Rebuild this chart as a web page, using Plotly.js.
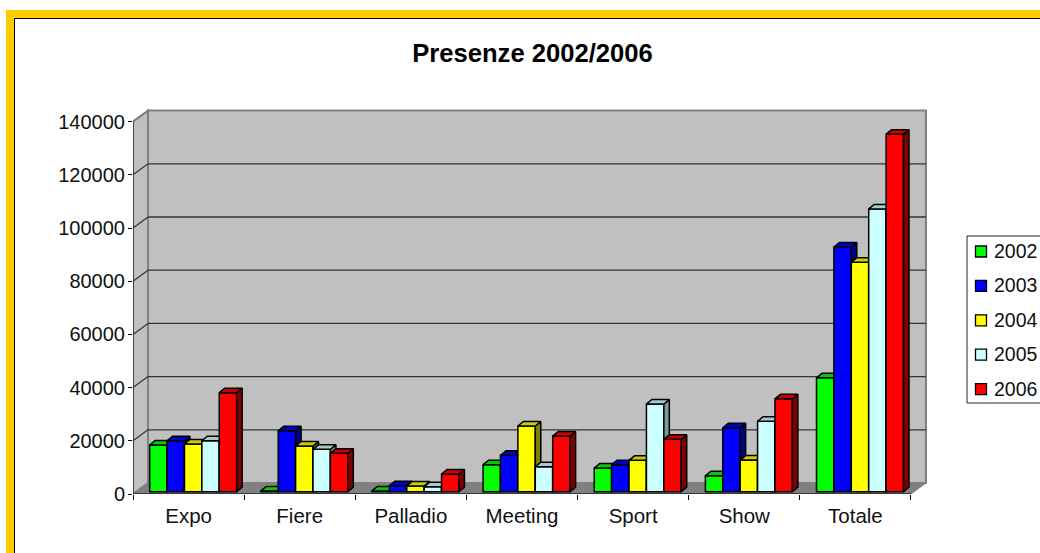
<!DOCTYPE html>
<html><head><meta charset="utf-8">
<script src="https://cdn.plot.ly/plotly-3.0.1.min.js"></script>
<style>html,body{margin:0;padding:0;background:#fff;overflow:hidden}#chart{width:1040px;height:553px}</style>
</head><body><div id="chart"></div>
<script>
const categories = ["Expo","Fiere","Palladio","Meeting","Sport","Show","Totale"];
const years = ["2002","2003","2004","2005","2006"];
const v2002 = [17560,300,300,10150,8910,6000,42800];
const v2003 = [19170,22930,2260,13680,10150,24000,92000];
const v2004 = [17930,17180,2140,24700,11800,11900,86300];
const v2005 = [19170,15940,1900,9400,32970,26500,106300];
const v2006 = [37220,14440,6650,20940,19700,34900,134400];
const yTicks = [0,20000,40000,60000,80000,100000,120000,140000];
const seriesValues = [v2002,v2003,v2004,v2005,v2006];
const frontColors = ["#00FF00","#0000FF","#FFFF00","#CCFFFF","#FF0000"];
const topColors = ["#00CC00","#0000CC","#CCCC00","#A3CCCC","#CC0000"];
const sideColors = ["#008000","#000080","#808000","#7A9999","#800000"];

// pixel geometry of the plot frame
const L=133,R=930,T=107,B=494,W=1040,H=553;
const pxPerCat=111.14, pxPerVal=53.2/20000;
const depthX=15/pxPerCat, depthY=11/pxPerVal;      // wall depth in data units
const barDX=5.5/pxPerCat, barDY=4.5/pxPerVal;      // bar depth in data units
const barW=17.4/pxPerCat, barShift=4.6/pxPerCat, barBase=2.3/pxPerVal;
const xMin=-0.5, xFront=6.5, xMax=xMin+(R-L)/pxPerCat, yMax=(B-T)/pxPerVal;
const yTop=140000;
const xp=p=>(p-L)/(R-L), yp=p=>(B-p)/(B-T);
const FONT="Liberation Sans, Arial, sans-serif";

const traces=[], layout={
  width:W,height:H,autosize:false,showlegend:false,
  paper_bgcolor:"#fff",plot_bgcolor:"rgba(0,0,0,0)",
  margin:{l:L,r:W-R,t:T,b:H-B,pad:0},
  font:{family:FONT,size:20,color:"#000"},
  title:{text:"Presenze 2002/2006",x:xp(532.5),xref:"paper",xanchor:"center",y:yp(53),yref:"paper",yanchor:"middle",
    font:{family:FONT,size:25.6,weight:700,color:"#000"}},
  xaxis:{range:[xMin,xMax],tickmode:"array",tickvals:categories.map((c,i)=>i),ticktext:categories,ticks:"",
    showgrid:false,zeroline:false,showline:false,ticklabelstandoff:7,tickfont:{family:FONT,size:20.5,color:"#111"},
    minor:{tickmode:"array",tickvals:categories.map((c,i)=>i-0.5).concat([xFront]),ticks:"outside",ticklen:5,tickwidth:1,tickcolor:"#000",showgrid:false}},
  yaxis:{range:[0,yMax],tickmode:"array",tickvals:yTicks,ticktext:yTicks.map(String),ticks:"outside",ticklen:4,tickwidth:1,tickcolor:"#000",
    showgrid:false,zeroline:false,showline:false,ticklabelstandoff:-1,tickfont:{family:FONT,size:20,color:"#111"}},
  shapes:[],annotations:[]
};

// chart frame
const paperRect=(x0,y0,x1,y1,fill,line)=>({type:"rect",xref:"paper",yref:"paper",x0:xp(x0),x1:xp(x1),y0:yp(y0),y1:yp(y1),
  fillcolor:fill,line:line||{width:0},layer:"below"});
layout.shapes.push(paperRect(6,10,1045,18,"#FFCC00"));
layout.shapes.push(paperRect(6,10,14,560,"#FFCC00"));
layout.shapes.push(paperRect(14,18,1045,19,"#000"));
layout.shapes.push(paperRect(14,18,15,560,"#000"));

// 3D walls and floor
const poly=(pts,fill,lineColor,lw)=>({type:"path",xref:"x",yref:"y",layer:"below",fillcolor:fill,
  line:{color:lineColor,width:lw},path:"M"+pts.map(p=>p[0]+","+p[1]).join("L")+"Z"});
const xb=xMin+depthX, xbR=xFront+depthX, yb=depthY, ybT=yTop+depthY;
layout.shapes.push(poly([[xb,yb],[xbR,yb],[xbR,ybT],[xb,ybT]],"#C0C0C0","#808080",2));
layout.shapes.push(poly([[xMin,0],[xb,yb],[xb,ybT],[xMin,yTop]],"#C0C0C0","#808080",2));
layout.shapes.push(poly([[xMin,0],[xFront,0],[xbR,yb],[xb,yb]],"#808080","#808080",1));
yTicks.forEach(t=>{
  if(t>0&&t<yTop) layout.shapes.push({type:"line",xref:"x",yref:"y",layer:"below",x0:xb,x1:xbR,y0:t+depthY,y1:t+depthY,line:{color:"#333",width:1.3}});
  if(t>0) layout.shapes.push({type:"line",xref:"x",yref:"y",layer:"below",x0:xMin,x1:xb,y0:t,y1:t+depthY,line:{color:t===yTop?"#808080":"#333",width:1.2}});
});

// axis lines
traces.push({type:"scatter",mode:"lines",x:[xMin,xMin,xFront],y:[yTop,0,0],line:{color:"#222",width:1.3},cliponaxis:false,hoverinfo:"skip",xaxis:"x",yaxis:"y"});

// one overlaid subplot per series so later bars hide the side faces of earlier ones
seriesValues.forEach((vals,s)=>{
  const n=s===0?"":String(s+1);
  const xa="x"+n, ya="y"+n;
  if(s>0){
    layout["xaxis"+n]={overlaying:"x",range:[xMin,xMax],visible:false};
    layout["yaxis"+n]={overlaying:"y",range:[0,yMax],visible:false};
  }
  const off=(s-2)*barW+barShift;
  const topX=[],topY=[],sideX=[],sideY=[];
  vals.forEach((v,i)=>{
    const x0=i+off-barW/2,x1=i+off+barW/2,y0=barBase,y1=barBase+v;
    topX.push(x0,x1,x1+barDX,x0+barDX,x0,null);
    topY.push(y1,y1,y1+barDY,y1+barDY,y1,null);
    sideX.push(x1,x1+barDX,x1+barDX,x1,x1,null);
    sideY.push(y0,y0+barDY,y1+barDY,y1,y0,null);
  });
  const lineBlack={color:"#000",width:1.5};
  traces.push({type:"scatter",mode:"lines",x:sideX,y:sideY,fill:"toself",fillcolor:sideColors[s],line:lineBlack,hoverinfo:"skip",xaxis:xa,yaxis:ya});
  traces.push({type:"scatter",mode:"lines",x:topX,y:topY,fill:"toself",fillcolor:topColors[s],line:lineBlack,hoverinfo:"skip",xaxis:xa,yaxis:ya});
  traces.push({type:"bar",name:years[s],x:vals.map((v,i)=>i+off),y:vals,base:barBase,width:barW,
    marker:{color:frontColors[s],line:{color:"#000",width:1.5}},xaxis:xa,yaxis:ya});
});

// legend
layout.shapes.push({type:"rect",xref:"paper",yref:"paper",x0:xp(967),x1:xp(1046),y0:yp(236),y1:yp(403),fillcolor:"#fff",line:{color:"#222",width:1},layer:"above"});
years.forEach((y,s)=>{
  const cy=251+s*34.4;
  layout.shapes.push({type:"rect",xref:"paper",yref:"paper",x0:xp(975.5),x1:xp(986.5),y0:yp(cy-5),y1:yp(cy+6),fillcolor:frontColors[s],line:{color:"#000",width:1.3},layer:"above"});
  layout.annotations.push({text:y,xref:"paper",yref:"paper",x:xp(992),y:yp(cy),xanchor:"left",yanchor:"middle",showarrow:false,
    font:{family:FONT,size:19.5,color:"#111"}});
});

Plotly.newPlot("chart",traces,layout,{staticPlot:true,displayModeBar:false});
</script></body></html>
